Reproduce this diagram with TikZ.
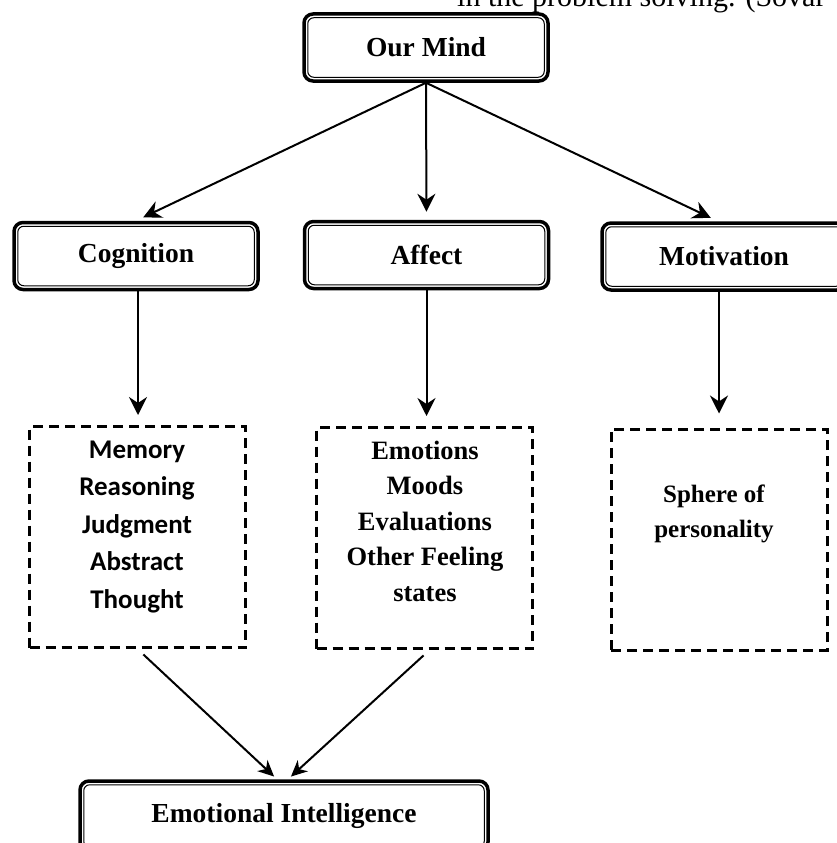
\documentclass[tikz,border=0pt]{standalone}
\usepackage{fontspec}
\setmainfont{Liberation Serif}
\newfontfamily\calibri{Carlito}
\usetikzlibrary{arrows.meta}
\tikzset{
  mindbox/.style={draw, line width=3.5pt, rounded corners=9pt, inner sep=0pt,
    minimum width=244pt, minimum height=67pt,
    font=\bfseries\fontsize{27.5}{32}\selectfont},
  innerline/.style={line width=1pt, rounded corners=6pt},
  listbox/.style={draw, line width=3pt, dash pattern=on 10pt off 6pt,
    minimum width=216pt, minimum height=221pt, inner sep=0pt},
  listtext/.style={align=center, inner sep=0pt},
  flow/.style={-{Stealth[length=18pt, width=18pt, inset=6pt]}, line width=2pt},
  merge/.style={-{Stealth[length=16pt, width=15pt, inset=5pt]}, line width=2pt}
}
\begin{document}
\begin{tikzpicture}[x=1pt, y=-1pt]
\useasboundingbox (0,0) rectangle (836,843);

% line cut off from the page above
\node[anchor=base west, inner sep=0pt, font=\fontsize{30}{36}\selectfont] (cite) at (457,7) {in the problem solving. (Sovar};

% boxes
\node[mindbox] (mind) at (426,47.5) {Our Mind};
\node[mindbox] (cog) at (136,256) {Cognition};
\node[mindbox] (aff) at (426.5,255) {Affect};
\node[mindbox] (mot) at (724,256.5) {Motivation};
\node[mindbox, minimum width=408pt, minimum height=70pt] (emo) at (284,816) {Emotional Intelligence};
\foreach \n in {mind,cog,aff,mot,emo}
  \draw[innerline] ([shift={(5.5pt,-5.5pt)}]\n.north west) rectangle ([shift={(-5.5pt,5.5pt)}]\n.south east);

% dashed lists
\node[listbox] (coglist) at (137.5,537) {};
\node[listbox] (afflist) at (424.5,538) {};
\node[listbox] (motlist) at (719,539.5) {};
\node[listtext, font=\calibri\bfseries\fontsize{27}{37.5}\selectfont] (cogtext) at (137,527) {Memory\\Reasoning\\Judgment\\Abstract\\Thought};
\node[listtext, font=\bfseries\fontsize{26.5}{35.5}\selectfont] (afftext) at (425,521) {Emotions\\Moods\\Evaluations\\Other Feeling\\states};
\node[listtext, font=\bfseries\fontsize{25}{35}\selectfont] (mottext) at (714,514) {Sphere of\\personality};

% connectors
\draw[flow, shorten >=8pt] (mind.south) -- (cog.north);
\draw[flow, shorten >=8pt] (mind.south) -- (aff.north);
\draw[flow, shorten >=8pt] (mind.south) -- ([xshift=-6pt]mot.north);
\draw[flow, shorten >=10pt] ([xshift=2pt]cog.south) -- ([xshift=2pt]cog.south |- coglist.north);
\draw[flow, shorten >=10pt] (aff.south) -- (aff.south |- afflist.north);
\draw[flow, shorten >=14pt] (motlist.north |- mot.south) -- (motlist.north);
\draw[merge, shorten <=8pt, shorten >=4pt] (coglist.south) -- ([xshift=-7pt]emo.north);
\draw[merge, shorten <=8pt, shorten >=4pt] ([xshift=5pt]afflist.south) -- ([xshift=4pt]emo.north);
\end{tikzpicture}
\end{document}
